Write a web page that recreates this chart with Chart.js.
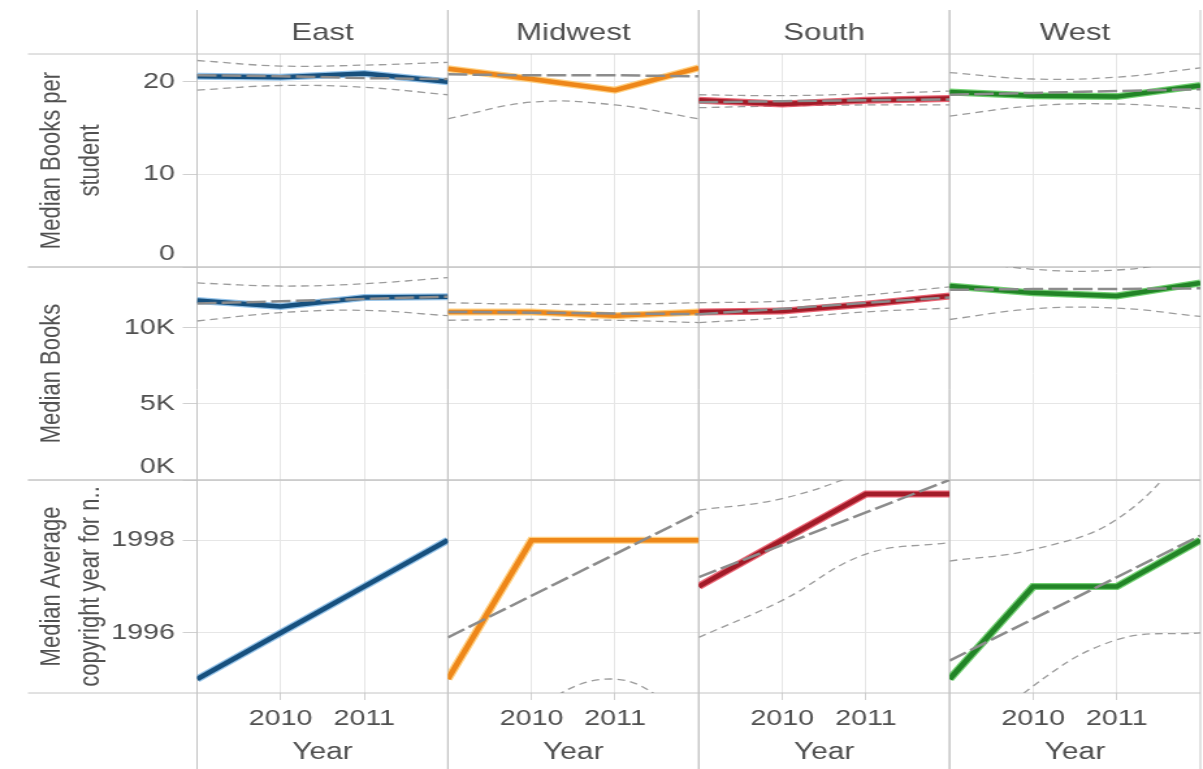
<!DOCTYPE html>
<html lang="en">
<head>
<meta charset="UTF-8">
<title>Median books by region</title>
<script src="https://cdn.jsdelivr.net/npm/chart.js"></script>
<style>
    body {
        margin: 0;
        background: #fff;
        overflow: hidden;
    }

    /* the reference picture is stretched sideways, so draw narrow and widen it */
    #wrap {
        width: 925px;
        height: 769px;
        transform: scaleX(1.3005);
        transform-origin: 0 0;
    }
</style>
</head>
<body>
<div id="wrap"><canvas id="chart" width="925" height="769"></canvas></div>
<script>
    const years = [2009, 2010, 2011, 2012];
    const yearTicks = [2010, 2011];
    const regions = ['East', 'Midwest', 'South', 'West'];

    // Median Books per student, one row per region
    const perStudentValues = [
        [20.6, 20.5, 20.9, 20.0],
        [21.4, 20.3, 19.1, 21.5],
        [18.0, 17.6, 18.0, 18.2],
        [18.9, 18.5, 18.4, 19.6]
    ];
    const perStudentTrend = [
        [20.7, 20.6, 20.4, 20.3],
        [20.8, 20.7, 20.7, 20.6],
        [17.8, 17.9, 18.0, 18.1],
        [18.6, 18.8, 19.0, 19.2]
    ];
    const perStudentUpper = [
        [22.3, 21.7, 21.8, 22.1],
        [25.5, 23.7, 23.9, 25.3],
        [18.6, 18.5, 18.7, 19.0],
        [21.0, 20.3, 20.5, 21.5]
    ];
    const perStudentLower = [
        [19.1, 19.6, 19.4, 18.6],
        [16.0, 17.8, 17.5, 16.0],
        [17.2, 17.4, 17.5, 17.5],
        [16.3, 17.4, 17.6, 17.1]
    ];
    const perStudentTicks = [0, 10, 20];
    const perStudentLabels = ['0', '10', '20'];

    // Median Books
    const booksValues = [
        [11800, 11400, 12000, 12050],
        [11050, 11050, 10800, 11050],
        [11050, 11100, 11550, 12100],
        [12750, 12300, 12100, 12950]
    ];
    const booksTrend = [
        [11600, 11750, 11900, 12050],
        [11050, 11000, 10950, 10900],
        [10900, 11250, 11650, 12000],
        [12500, 12550, 12550, 12600]
    ];
    const booksUpper = [
        [12950, 12750, 12900, 13300],
        [11650, 11550, 11550, 11650],
        [11650, 11750, 12150, 12700],
        [14600, 13850, 13800, 14500]
    ];
    const booksLower = [
        [10450, 11000, 11150, 10800],
        [10500, 10550, 10500, 10350],
        [10350, 10650, 11050, 11300],
        [10550, 11250, 11300, 10750]
    ];
    const booksTicks = [0, 5000, 10000];
    const booksLabels = ['0K', '5K', '10K'];

    // Median Average copyright year (East is an exact fit: trend hidden, no band)
    const copyrightValues = [
        [1995, 1996, 1997, 1998],
        [1995, 1998, 1998, 1998],
        [1997, 1998, 1999, 1999],
        [1995, 1997, 1997, 1998]
    ];
    const copyrightTrend = [
        null,
        [1995.9, 1996.8, 1997.7, 1998.6],
        [1997.2, 1997.9, 1998.6, 1999.3],
        [1995.4, 1996.3, 1997.2, 1998.1]
    ];
    const copyrightUpper = [
        null,
        [2000.4, 1999.6, 2000.4, 2003.0],
        [1998.65, 1998.9, 1999.5, 2000.3],
        [1997.55, 1997.8, 1998.45, 2000.2]
    ];
    const copyrightLower = [
        null,
        [1991.5, 1994.2, 1995.0, 1994.0],
        [1995.9, 1996.7, 1997.7, 1997.95],
        [1993.2, 1994.85, 1995.85, 1996.0]
    ];
    const copyrightTicks = [1996, 1998];
    const copyrightLabels = ['1996', '1998'];

    const lineColors = ['#17507e', '#ee8719', '#a21b28', '#228427'];
    const haloColors = ['rgba(105,170,222,0.7)', 'rgba(255,196,100,0.8)', 'rgba(228,64,82,0.8)', 'rgba(80,196,80,0.8)'];
    const family = "'Liberation Sans', Arial, sans-serif";
    const textColor = '#505050';
    const gridColor = '#e6e6e6';

    const colAxes = ['xE', 'xM', 'xS', 'xW'];
    const headAxes = ['tE', 'tM', 'tS', 'tW'];
    const rowAxes = ['y1', 'y2', 'y3'];

    const measures = [
        { y: 'y1', values: perStudentValues, trend: perStudentTrend, upper: perStudentUpper, lower: perStudentLower },
        { y: 'y2', values: booksValues, trend: booksTrend, upper: booksUpper, lower: booksLower },
        { y: 'y3', values: copyrightValues, trend: copyrightTrend, upper: copyrightUpper, lower: copyrightLower }
    ];

    const points = arr => years.map((yr, i) => ({ x: yr, y: arr[i] }));

    const datasets = [];
    measures.forEach(m => {
        regions.forEach((r, i) => {
            const ids = { xAxisID: colAxes[i], yAxisID: m.y, pointRadius: 0, clip: 0 };
            [m.upper[i], m.lower[i]].forEach(band => {
                if (!band) return;
                datasets.push({ ...ids, data: points(band), borderColor: '#9c9c9c', borderWidth: 1.3, borderDash: [6, 4], tension: 0.4, order: 4 });
            });
            datasets.push({ ...ids, data: points(m.values[i]), borderColor: haloColors[i], borderWidth: 7, order: 3 });
            datasets.push({ ...ids, data: points(m.values[i]), borderColor: lineColors[i], borderWidth: 4.5, order: 2 });
            if (m.trend[i]) {
                datasets.push({ ...ids, data: points(m.trend[i]), borderColor: '#8c8c8c', borderWidth: 2.5, borderDash: [15, 4], order: 1 });
            }
        });
    });

    const rowAxis = (weight, min, max, ticks, labels, title) => ({
        type: 'linear', axis: 'y', position: 'left', stack: 'rows', stackWeight: 1, weight,
        min, max,
        afterFit: s => { s.width = 151.5; s.paddingTop = 0; s.paddingBottom = 0; },
        afterBuildTicks: s => { s.ticks = ticks.map(v => ({ value: v })); },
        grid: { color: gridColor, tickColor: '#d0d0d0', tickLength: 11 },
        border: { display: false },
        ticks: {
            color: textColor, padding: 6, autoSkip: false, font: { family, size: 22 },
            // a label sitting on the panel floor is lifted inside the panel
            callback: (v, i) => v === min ? [labels[i], ''] : labels[i]
        },
        title: { display: true, text: title, color: textColor, font: { family, size: 22, lineHeight: 1.36 }, padding: { top: 25 } }
    });

    const scales = {};
    regions.forEach((r, i) => {
        scales[headAxes[i]] = {
            type: 'linear', axis: 'x', position: 'top', stack: 'heads', stackWeight: 1, weight: 4 - i,
            min: 2009, max: 2012,
            afterFit: s => { s.height = 54; s.paddingLeft = 0; s.paddingRight = 0; },
            grid: { display: false },
            border: { display: false },
            ticks: { display: false },
            title: { display: true, text: r, color: textColor, font: { family, size: 24 }, padding: { top: 19 } }
        };
    });
    scales.y1 = rowAxis(3, 0, 23, perStudentTicks, perStudentLabels, ['Median Books per', 'student']);
    scales.y2 = rowAxis(2, 0, 14000, booksTicks, booksLabels, 'Median Books');
    scales.y3 = rowAxis(1, 1994.7, 1999.3, copyrightTicks, copyrightLabels, ['Median Average', 'copyright year for n..']);
    regions.forEach((r, i) => {
        scales[colAxes[i]] = {
            type: 'linear', axis: 'x', position: 'bottom', stack: 'cols', stackWeight: 1, weight: i + 1,
            min: 2009, max: 2012,
            afterFit: s => { s.height = 76; s.paddingLeft = 0; s.paddingRight = 0; },
            afterBuildTicks: s => { s.ticks = yearTicks.map(v => ({ value: v })); },
            grid: { color: gridColor, tickColor: '#d0d0d0', tickLength: 7 },
            border: { display: false },
            ticks: { color: textColor, padding: 6, autoSkip: false, maxRotation: 0, font: { family, size: 22 }, callback: v => String(v) },
            title: { display: true, text: 'Year', color: textColor, font: { family, size: 23 }, padding: { bottom: 3 } }
        };
    });

    // panel separators, running out into the label margins
    const framePlugin = {
        id: 'frame',
        beforeDatasetsDraw(chart) {
            const { ctx, chartArea } = chart;
            ctx.save();
            ctx.strokeStyle = '#c4c4c4';
            ctx.lineWidth = 1;
            ctx.beginPath();
            rowAxes.forEach(id => {
                const s = chart.scales[id];
                [s.top, s.bottom].forEach(y => {
                    ctx.moveTo(21.5, y);
                    ctx.lineTo(chartArea.right, y);
                });
            });
            colAxes.forEach(id => {
                const s = chart.scales[id];
                [s.left, s.right].forEach(x => {
                    ctx.moveTo(x, 10);
                    ctx.lineTo(x, chart.height);
                });
            });
            ctx.stroke();
            ctx.restore();
        }
    };

    new Chart(document.getElementById('chart'), {
        type: 'line',
        data: { datasets },
        options: {
            responsive: false,
            animation: false,
            layout: { padding: { right: 2 } },
            plugins: { legend: { display: false }, tooltip: { enabled: false } },
            scales
        },
        plugins: [framePlugin]
    });
</script>
</body>
</html>
